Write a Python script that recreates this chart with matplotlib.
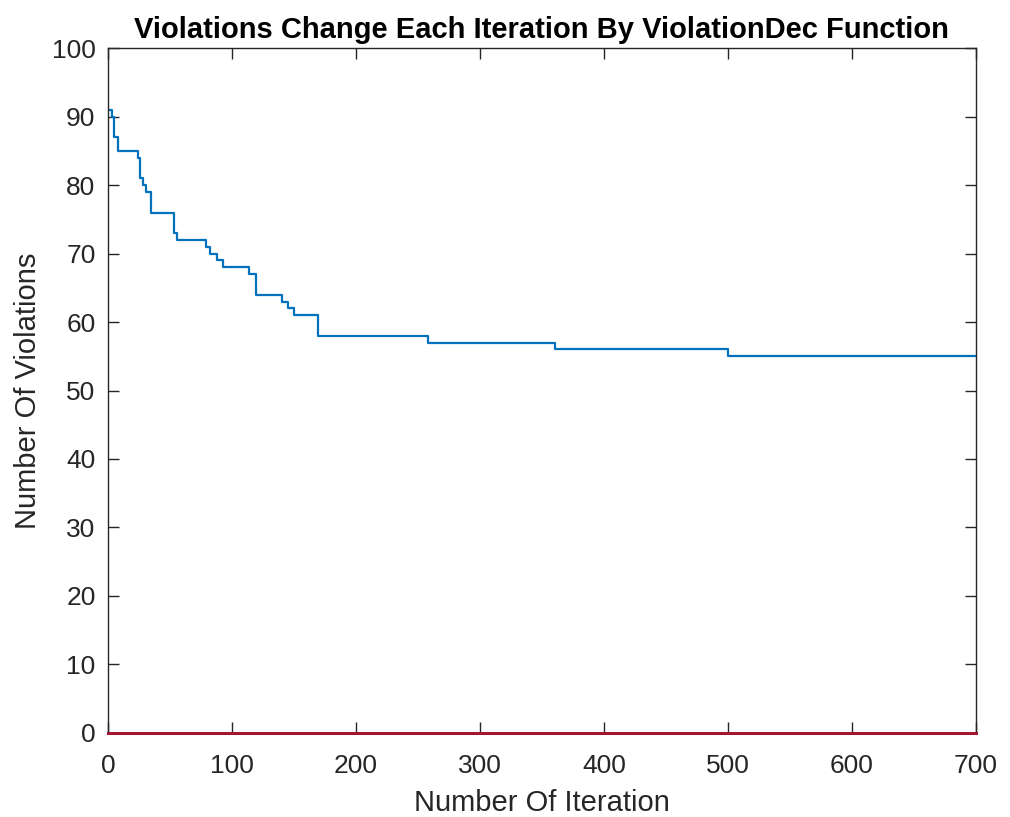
import numpy as np
from matplotlib import pyplot as plt

# iteration at which the violation count changes, and the new count
change_iter = [0, 3, 5, 8, 24, 26, 28, 31, 35, 53, 56, 79, 82, 88, 93,
               114, 119, 140, 145, 150, 169, 258, 361, 500, 700]
violations = [91, 90, 87, 85, 84, 81, 80, 79, 76, 73, 72, 71, 70, 69, 68,
              67, 64, 63, 62, 61, 58, 57, 56, 55, 55]
target_iter = [0, 700]
target_value = [0, 0]

x_ticks = np.arange(0, 701, 100)
y_ticks = np.arange(0, 101, 10)

plt.rcParams["font.family"] = ["Liberation Sans", "DejaVu Sans"]
gray = "#262626"

fig = plt.figure(figsize=(10.1, 8.17), dpi=100)
ax = fig.add_axes([0.107, 0.103, 0.859, 0.838])

ax.step(change_iter, violations, where="post", color="#0072BD", lw=1.6)
ax.plot(target_iter, target_value, color="#A2142F", lw=2.2, clip_on=False, zorder=3)

ax.set_xlim(0, 700)
ax.set_ylim(0, 100)
ax.set_xticks(x_ticks)
ax.set_yticks(y_ticks)
ax.tick_params(direction="in", length=8, width=1, colors=gray, labelsize=19,
               top=True, right=True)
ax.tick_params(axis="y", pad=9)
ax.tick_params(axis="x", pad=15)
for side in ax.spines.values():
    side.set_color(gray)
    side.set_linewidth(1)

ax.set_xlabel("Number Of Iteration", fontsize=21, color=gray, labelpad=8)
ax.set_ylabel("Number Of Violations", fontsize=21, color=gray, labelpad=7)
ax.set_title("Violations Change Each Iteration By ViolationDec Function",
             fontsize=21, fontweight="bold", pad=7)

fig.savefig("out.png", dpi=100)
